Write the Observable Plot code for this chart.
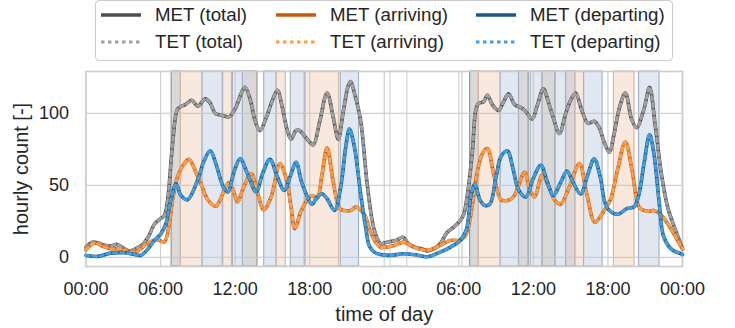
<!DOCTYPE html>
<html><head><meta charset="utf-8">
<script src="https://cdn.jsdelivr.net/npm/d3@7"></script>
<script src="https://cdn.jsdelivr.net/npm/@observablehq/plot@0.6"></script>
<style>
body{margin:0;background:#fff;font-family:"Liberation Sans",Arial,sans-serif;}
#wrap{position:relative;width:735px;}
#legend{position:relative;width:735px;height:64px;}
#box{position:absolute;left:95px;top:0px;width:578px;height:61px;border:1.3px solid #cccccc;border-radius:4px;box-sizing:border-box;background:#fff;}
.item{position:absolute;display:flex;align-items:center;font-size:18.7px;color:#262626;white-space:nowrap;height:24px;}
.item svg{margin-right:14px;}
#chart svg{display:block;}
</style></head><body>
<div id="wrap"><div id="legend"><div id="box"></div></div><div id="chart"></div></div>
<script>
// ---- tick labels ----
const hourTicks = [0, 6, 12, 18, 24, 30, 36, 42, 48];
const hourTickLabels = ["00:00","06:00","12:00","18:00","00:00","06:00","12:00","18:00","00:00"];
const countTicks = [0, 50, 100];

// ---- series: hourly count, total ----
const totalHours = [0,0.5,1,1.5,2,2.5,3,3.5,4,4.5,5,5.5,6,6.3,6.57,6.97,7.37,7.7,8,8.5,9,9.6,10,10.4,11,11.5,12,12.5,12.8,13.2,13.6,14,14.5,15,15.4,15.8,16.2,16.5,16.9,17.2,17.6,18,18.3,18.8,19.4,19.9,20.3,20.7,21.1,21.3,21.6,22.1,22.65,23.2,23.7,24,24.5,25,25.5,26,26.5,27,27.5,28,28.5,29.07,29.6,30.15,30.4,30.7,31.1,31.36,31.6,32,32.3,32.7,33.2,33.6,34,34.5,35,35.4,35.9,36.3,36.8,37.2,37.6,38.1,38.6,39,39.4,39.9,40.4,40.9,41.3,41.7,42.1,42.5,42.9,43.4,43.9,44.3,44.9,45.35,45.8,46.3,46.8,47.3,47.7,48];
const totalValues = [7,10.5,10,8.5,8,9,6.5,4.5,6,8.5,14,23,27,29,40,79,103,105,106,109,105,110,107,100,98.5,97.5,103,114,118,110,95,88,97,109,116,104,88,82,88,88,84,80,78,94,114,97,82,101,119,122,114,95,49,19,9.5,10,11,12,14,9,7,6,4.5,6,9.5,17.5,21,26,30,44,74,102,107,108,112.5,106,102,108,113.5,106,104,101,96,105,117,108,97,86,100,109,114,102,93,94.5,90,80,73,86,103,114,96,90,103,118,92,58,35,22,13,6];

// ---- series: arriving ----
const arrHours = [0,0.67,1.2,2,2.8,3.35,4.15,4.7,5.2,5.76,6.3,6.7,6.97,7.37,7.9,8.3,8.8,9.3,9.8,10.45,11,11.5,11.9,12.2,12.7,13.3,13.8,14.3,14.9,15.6,16.1,16.5,16.8,17.3,17.8,18.2,18.6,19,19.4,19.9,20.4,20.8,21.3,21.7,22.1,22.5,22.8,23.2,23.7,24,24.8,25.6,26.4,27.5,28.5,29.3,30.1,30.6,31.1,31.5,31.9,32.3,32.8,33.4,33.9,34.4,35.3,35.7,36.1,36.7,37.25,37.7,38.2,38.9,39.7,40.3,40.95,41.7,42.2,42.75,43.4,43.95,44.5,44.9,45.3,45.7,46.2,46.8,47.3,48];
const arrValues = [5.3,10,8.3,6,6,3.7,4.4,8.3,11,12.3,10.6,23.4,40,56,65,68,60,50,40,35.5,44,52,45,38.5,49,58,45,33,42,65,55,35,20,32,40,43,41,58,76,52,34,32.5,32.5,35,33,28,20,12,7,7,8.3,10.6,7,5,8.3,11.8,12,16.4,37,60,72,75.5,58,40,39.5,42,59,47,42,57,49,40,37,49,65,44,24.5,32.6,40,60,80,60,35,32.6,32,32.6,30,23.4,16.4,6];

// ---- series: departing ----
const depHours = [0,0.94,2,3.1,3.9,4.4,5,5.5,6.03,6.43,6.83,7.24,7.64,8.17,8.98,9.5,10,10.45,11,11.4,11.93,12.4,13,13.7,14.2,14.8,15.4,15.95,16.5,16.9,17.4,18.2,18.6,19,19.4,20,20.5,20.9,21.2,21.6,22.1,22.5,22.8,23.2,23.7,24.5,25.5,26.5,27.5,28.5,29.3,30.1,30.6,31,31.3,31.7,32.1,32.5,33,33.4,33.9,34.4,34.8,35.4,36,36.6,37.1,37.6,38.2,38.7,39.2,39.8,40.4,40.9,41.4,41.9,42.75,43.55,44.1,44.5,44.9,45.35,45.7,46.1,46.5,47.2,47.9,48];
const depValues = [1.4,0.7,3,3.2,2.1,1.4,6,11.8,16.4,23.4,40,51,43,40,53.5,67,74,65,50,45.4,60,68.5,58,45.4,58,68,56,46.5,58,66,51,37,42,44,40.7,32.6,49,76.6,89,76.6,44,21,8,3.7,2,1.4,2.5,1.8,0.5,3.7,7,11.8,19,44,50.7,40,36,37,56,70,74,60,47,42,55,64,53,43,52,60,52,44,58,68.5,55,35,30,34,35,44,65,85,72,40,14,5,2.5,2];

// ---- highlighted periods (hours) ----
const spanStart = [6.89,7.64,9.38,11.05,11.82,12.62,14.34,15.33,16.48,17.68,20.5, 24.5,30.29, 30.91,31.62,33.37,34.84,35.78,36.72,37.79,38.63,39.40,40.08,42.48,44.50];
const spanEnd   = [7.64,9.38,11.0,11.74,12.62,13.8,15.33,16.08,17.6,20.37,21.97, 25.86,30.31, 31.62,33.37,34.84,35.62,36.72,37.79,38.63,39.40,40.08,41.57,44.14,46.15];
const spanKind  = ["gray","arr","dep","arr","dep","gray","dep","arr","dep","arr","dep", "none","none", "gray","arr","dep","gray","dep","gray","dep","gray","arr","dep","arr","dep"];

const kindFill   = {gray:"#d9d9d9", arr:"#f8e8de", dep:"#e2e8f2", none:"#ffffff"};
const kindStroke = {gray:"#999999", arr:"#d8b9a6", dep:"#a5b2c8", none:"#d6d6d6"};

const seriesNames = ["MET (total)","MET (arriving)","MET (departing)","TET (total)","TET (arriving)","TET (departing)"];
const metColors = {total:"#4f4f4f", arr:"#c45b12", dep:"#1d5a8b"};
const tetColors = {total:"#a0a0a0", arr:"#ff9d47", dep:"#40a0e2"};

// build tables
const mk = (hs, vs) => hs.map((h, i) => ({h, v: vs[i]}));
const total = mk(totalHours, totalValues);
const arr = mk(arrHours, arrValues);
const dep = mk(depHours, depValues);
const spans = spanStart.map((s, i) => ({start: s, end: spanEnd[i], kind: spanKind[i]}));

const spanMarks = Object.keys(kindFill).map(k =>
  Plot.rect(spans.filter(d => d.kind === k), {x1: "start", x2: "end", fill: kindFill[k], stroke: kindStroke[k], strokeWidth: 1.2})
);

const curve = "catmull-rom";
const DASH = "3.5,3.5";
const metLine = (data, c) => Plot.line(data, {x: "h", y: "v", stroke: c, strokeWidth: 3.6, curve});
const tetLine = (data, c) => Plot.line(data, {x: "h", y: "v", stroke: c, strokeWidth: 3.0, strokeDasharray: DASH, curve});

const chart = Plot.plot({
  width: 735,
  height: 264,
  marginTop: 7,
  marginBottom: 62,
  marginLeft: 85.5,
  marginRight: 53,
  style: {fontFamily: "'Liberation Sans', Arial, sans-serif", fontSize: "18px", color: "#262626", background: "#fff"},
  x: {domain: [0, 48]},
  y: {domain: [-6.3, 129]},
  marks: [
    ...spanMarks,
    Plot.gridX(hourTicks, {stroke: "#c8c8c8", strokeOpacity: 0.85, strokeWidth: 1.2}),
    Plot.gridY(countTicks, {stroke: "#c8c8c8", strokeOpacity: 0.85, strokeWidth: 1.2}),
    Plot.frame({stroke: "#cccccc", strokeWidth: 1.6}),
    metLine(total, metColors.total), tetLine(total, tetColors.total),
    metLine(arr, metColors.arr), tetLine(arr, tetColors.arr),
    metLine(dep, metColors.dep), tetLine(dep, tetColors.dep),
    Plot.axisX(hourTicks, {tickSize: 0, tickPadding: 15.5, label: null, fontSize: 18, tickFormat: d => hourTickLabels[hourTicks.indexOf(d)]}),
    Plot.axisY(countTicks, {tickSize: 0, tickPadding: 17, label: null, fontSize: 18}),
    Plot.text(["time of day"], {frameAnchor: "bottom", lineAnchor: "middle", dy: 48, fill: "#262626", fontSize: 20}),
    Plot.text(["hourly count [-]"], {frameAnchor: "left", lineAnchor: "middle", textAnchor: "middle", rotate: -90, dx: -64, fill: "#262626", fontSize: 20})
  ]
});
document.getElementById("chart").appendChild(chart);

// ---- legend ----
const legendItems = [
  {name: seriesNames[0], color: metColors.total, dash: null, col: 0, row: 0},
  {name: seriesNames[1], color: metColors.arr, dash: null, col: 1, row: 0},
  {name: seriesNames[2], color: metColors.dep, dash: null, col: 2, row: 0},
  {name: seriesNames[3], color: tetColors.total, dash: DASH, col: 0, row: 1},
  {name: seriesNames[4], color: tetColors.arr, dash: DASH, col: 1, row: 1},
  {name: seriesNames[5], color: tetColors.dep, dash: DASH, col: 2, row: 1}
];
const colLeft = [101, 276, 476];
const rowTop = [3, 30];
const legend = document.getElementById("legend");
legendItems.forEach(it => {
  const div = document.createElement("div");
  div.className = "item";
  div.style.left = colLeft[it.col] + "px";
  div.style.top = rowTop[it.row] + "px";
  div.innerHTML = `<svg width="40" height="10"><line x1="0" x2="40" y1="5" y2="5" stroke="${it.color}" stroke-width="${it.dash ? 3.0 : 3.6}" ${it.dash ? `stroke-dasharray="${it.dash}"` : ""}/></svg><span>${it.name}</span>`;
  legend.appendChild(div);
});
</script>
</body></html>
